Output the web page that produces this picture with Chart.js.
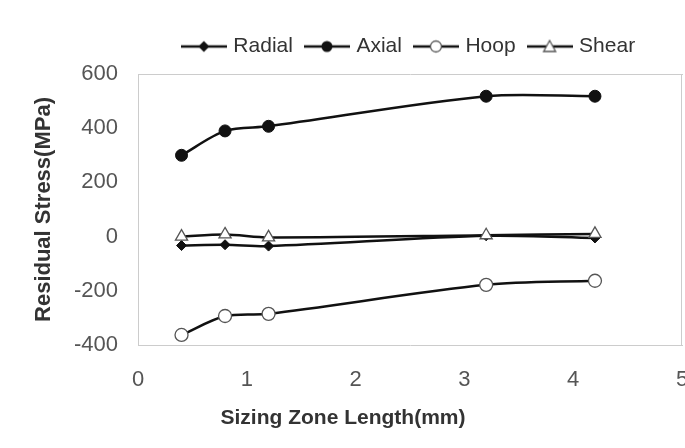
<!DOCTYPE html>
<html>
<head>
<meta charset="utf-8">
<script src="https://cdn.jsdelivr.net/npm/chart.js@4.4.1/dist/chart.umd.min.js"></script>
<style>
  html, body { margin: 0; padding: 0; background: #fff; }
  #wrap { width: 685px; height: 448px; }
</style>
</head>
<body>
<div id="wrap"><canvas id="chart_stress"></canvas></div>
<script>
// sizing zone length (mm)
var lengths = [0.4, 0.8, 1.2, 3.2, 4.2];
// residual stress (MPa)
var radial = [-33, -30, -35, 3, -5];
var axial = [300, 390, 407, 518, 518];
var hoop = [-363, -293, -285, -178, -163];
var shear = [0, 8, -3, 5, 10];

var seriesNames = ['Radial', 'Axial', 'Hoop', 'Shear'];
var xTicks = [0, 1, 2, 3, 4, 5];
var yTicks = [-400, -200, 0, 200, 400, 600];

function pts(vals) {
    var out = [];
    for (var i = 0; i < lengths.length; i++) out.push({x: lengths[i], y: vals[i]});
    return out;
}

// legend symbol: short line with the marker in the middle
function legendIcon(kind) {
    var c = document.createElement('canvas');
    c.width = 46; c.height = 16;
    var g = c.getContext('2d');
    g.strokeStyle = '#111';
    g.lineWidth = 2.5;
    g.beginPath(); g.moveTo(0, 8); g.lineTo(46, 8); g.stroke();
    g.lineWidth = 1.3;
    if (kind == 'diamond') {
        g.fillStyle = '#111';
        g.beginPath(); g.moveTo(23, 2.5); g.lineTo(28.5, 8); g.lineTo(23, 13.5); g.lineTo(17.5, 8); g.closePath(); g.fill();
    } else if (kind == 'dot') {
        g.fillStyle = '#111';
        g.beginPath(); g.arc(23, 8, 5.5, 0, Math.PI * 2); g.fill();
    } else if (kind == 'ring') {
        g.fillStyle = '#fff'; g.strokeStyle = '#555';
        g.beginPath(); g.arc(23, 8, 5.5, 0, Math.PI * 2); g.fill(); g.stroke();
    } else {
        g.fillStyle = '#fff'; g.strokeStyle = '#555';
        g.beginPath(); g.moveTo(23, 2); g.lineTo(29, 13); g.lineTo(17, 13); g.closePath(); g.fill(); g.stroke();
    }
    return c;
}
var icons = [legendIcon('diamond'), legendIcon('dot'), legendIcon('ring'), legendIcon('tri')];

// right frame line + x axis title (it sits left of centre in the original)
var framePlugin = {
    id: 'frame',
    beforeDatasetsDraw: function(chart) {
        var a = chart.chartArea, ctx = chart.ctx;
        ctx.save();
        ctx.strokeStyle = '#ccc';
        ctx.lineWidth = 1;
        ctx.beginPath();
        ctx.moveTo(a.right - 0.5, a.top);
        ctx.lineTo(a.right - 0.5, a.bottom);
        ctx.stroke();
        ctx.restore();
    },
    afterDraw: function(chart) {
        var ctx = chart.ctx;
        ctx.save();
        ctx.font = 'bold 21px "Liberation Sans", Arial, sans-serif';
        ctx.fillStyle = '#333';
        ctx.textAlign = 'center';
        ctx.textBaseline = 'middle';
        ctx.fillText('Sizing Zone Length(mm)', 343, 418);
        ctx.restore();
    }
};

var ctx = document.getElementById('chart_stress').getContext('2d');
var chart = new Chart(ctx, {
    type: 'line',
    data: {
        datasets: [{
            label: seriesNames[0],
            data: pts(radial),
            borderColor: '#111',
            backgroundColor: '#111',
            pointStyle: 'rectRot',
            pointRadius: 5,
            order: 3
        }, {
            label: seriesNames[1],
            data: pts(axial),
            borderColor: '#111',
            backgroundColor: '#111',
            pointStyle: 'circle',
            pointRadius: 6,
            order: 2
        }, {
            label: seriesNames[2],
            data: pts(hoop),
            borderColor: '#111',
            backgroundColor: '#fff',
            pointBorderColor: '#555',
            pointBorderWidth: 1.3,
            pointStyle: 'circle',
            pointRadius: 6.5,
            order: 1
        }, {
            label: seriesNames[3],
            data: pts(shear),
            borderColor: '#111',
            backgroundColor: '#fff',
            pointBorderColor: '#555',
            pointBorderWidth: 1.3,
            pointStyle: 'triangle',
            pointRadius: 7,
            order: 0
        }]
    },
    options: {
        responsive: true,
        maintainAspectRatio: false,
        animation: false,
        elements: {
            line: { borderWidth: 2.5, tension: 0.3 }
        },
        layout: { autoPadding: false, padding: { top: 21, left: 0, right: 0, bottom: 0 } },
        plugins: {
            tooltip: { enabled: false },
            legend: {
                position: 'top',
                fullSize: false,
                maxWidth: 510,
                labels: {
                    usePointStyle: true,
                    pointStyleWidth: 38,
                    padding: 15,
                    color: '#333',
                    font: { family: '"Liberation Sans", Arial, sans-serif', size: 21 },
                    generateLabels: function(ch) {
                        var items = Chart.defaults.plugins.legend.labels.generateLabels(ch);
                        items.forEach(function(it) { it.pointStyle = icons[it.datasetIndex]; });
                        items.sort(function(a, b) { return a.datasetIndex - b.datasetIndex; });
                        return items;
                    }
                }
            }
        },
        scales: {
            x: {
                type: 'linear',
                min: xTicks[0],
                max: xTicks[xTicks.length - 1],
                afterBuildTicks: function(s) { s.ticks = xTicks.map(function(v) { return {value: v}; }); },
                afterFit: function(s) { s.height = 103; s.paddingLeft = 0; s.paddingRight = 3; },
                grid: { display: false, drawTicks: false },
                border: { display: true, color: '#ccc', width: 1 },
                ticks: {
                    padding: 22,
                    maxRotation: 0,
                    color: '#555',
                    font: { family: '"Liberation Sans", Arial, sans-serif', size: 22 }
                }
            },
            xTop: {
                type: 'linear',
                position: 'top',
                afterFit: function(s) { s.height = 7; s.paddingLeft = 0; s.paddingRight = 0; },
                grid: { display: false, drawTicks: false },
                border: { display: true, color: '#ccc', width: 1 },
                ticks: { display: false }
            },
            y: {
                min: yTicks[0],
                max: yTicks[yTicks.length - 1],
                afterBuildTicks: function(s) { s.ticks = yTicks.map(function(v) { return {value: v}; }); },
                afterFit: function(s) { s.width = 138; },
                grid: { display: false, drawTicks: false },
                border: { display: true, color: '#ccc', width: 1 },
                ticks: {
                    padding: 20,
                    color: '#555',
                    font: { family: '"Liberation Sans", Arial, sans-serif', size: 22 }
                },
                title: {
                    display: true,
                    text: 'Residual Stress(MPa)',
                    color: '#333',
                    padding: { top: 31, bottom: 0 },
                    font: { family: '"Liberation Sans", Arial, sans-serif', size: 22, weight: 'bold' }
                }
            }
        }
    },
    plugins: [framePlugin]
});
</script>
</body>
</html>
